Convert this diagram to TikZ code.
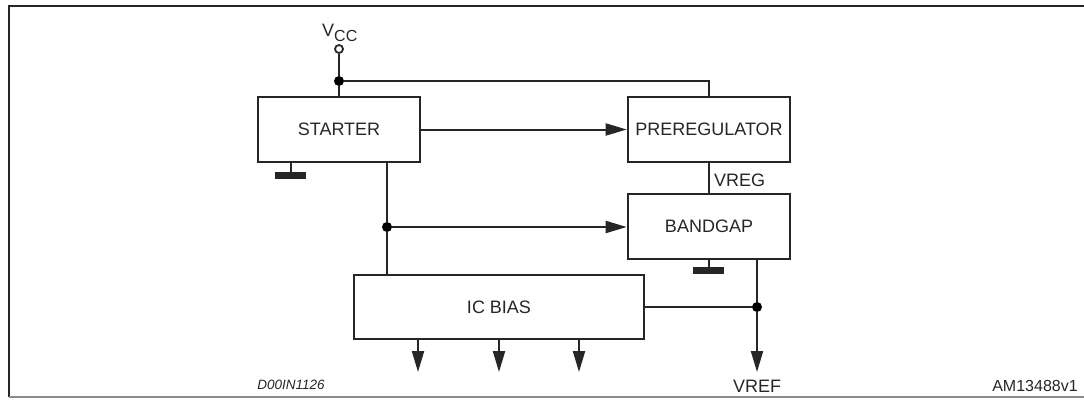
\documentclass[tikz,border=0pt]{standalone}
\usepackage{fontspec}
\setmainfont{Liberation Sans}
\usetikzlibrary{arrows.meta}
\begin{document}
\begin{tikzpicture}[x=1pt,y=-1pt,
  blk/.style={draw=black!85,line width=2.6pt,inner sep=0pt,font=\fontsize{18}{20}\selectfont,text=black!85},
  wire/.style={draw=black!85,line width=2pt},
  arr/.style={wire,-{Triangle[length=21pt,width=12pt]}},
  jdot/.style={circle,fill=black,inner sep=0pt,minimum size=10pt},
  gbar/.style={fill=black!85,draw=none},
  lbl/.style={inner sep=0pt,text=black!85,font=\fontsize{18}{20}\selectfont}]
\useasboundingbox (0,0) rectangle (1084,399);
% frame
\draw[line width=1.8pt,black!85] (9,397) -- (9,6) -- (1084,6);
\draw[line width=1.8pt,black!45] (9,397) -- (1084,397);
% blocks
\node[blk,minimum width=162pt,minimum height=65pt] (st) at (339,129.5) {STARTER};
\node[blk,minimum width=162pt,minimum height=65pt] (pr) at (709,129.5) {PREREGULATOR};
\node[blk,minimum width=162pt,minimum height=65pt] (bg) at (709,226.5) {BANDGAP};
\node[blk,minimum width=290pt,minimum height=64pt] (ic) at (499,307) {IC BIAS};
% Vcc
\node[circle,draw=black!85,line width=1.8pt,fill=white,inner sep=0pt,minimum size=8pt] (vcc) at (339,49) {};
\node[lbl,anchor=south] (vcclbl) at (340,42) {V\textsubscript{\fontsize{16}{18}\selectfont CC}};
\node[jdot] (j1) at (339,81) {};
\coordinate (c1) at (709,81);
\draw[wire] (vcc) -- (j1) -- (st.north -| j1);
\draw[wire] (j1) -- (c1) -- (pr.north);
% starter -> preregulator
\draw[arr] (st.east) -- (pr.west);
% VREG
\draw[wire] (pr.south) -- (bg.north);
\node[lbl,anchor=west] (vreg) at (714,180) {VREG};
% starter ground
\coordinate (sg) at (291,162);
\coordinate (sgb) at (291,172);
\draw[wire] (sg) -- (sgb);
\fill[gbar] (275,172) rectangle (306,179);
% starter to IC bias with junction
\node[jdot] (j2) at (387,227) {};
\coordinate (s1) at (387,162);
\coordinate (s2) at (387,275);
\draw[wire] (s1) -- (j2) -- (s2);
\draw[arr] (j2) -- (bg.west |- j2);
% bandgap ground
\coordinate (bgg) at (709,268);
\draw[wire] (bg.south) -- (bgg);
\fill[gbar] (693,267) rectangle (724,274);
% bandgap output / VREF
\coordinate (b1) at (757,259);
\node[jdot] (j3) at (757,307) {};
\coordinate (vrefend) at (757,372);
\draw[wire] (b1) -- (j3);
\draw[wire] (ic.east |- j3) -- (j3);
\draw[arr] (j3) -- (vrefend);
\node[lbl] (vref) at (757,386) {VREF};
% IC bias outputs
\coordinate (o1) at (418,372);
\coordinate (o2) at (499,372);
\coordinate (o3) at (579,372);
\draw[arr] (ic.south -| o1) -- (o1);
\draw[arr] (ic.south -| o2) -- (o2);
\draw[arr] (ic.south -| o3) -- (o3);
% labels
\node[inner sep=0pt,text=black!85,font=\fontsize{13.5}{15}\selectfont\itshape] (code1) at (291,385) {D00IN1126};
\node[inner sep=0pt,text=black!85,font=\fontsize{16}{18}\selectfont] (code2) at (1035,386) {AM13488v1};
\end{tikzpicture}
\end{document}
